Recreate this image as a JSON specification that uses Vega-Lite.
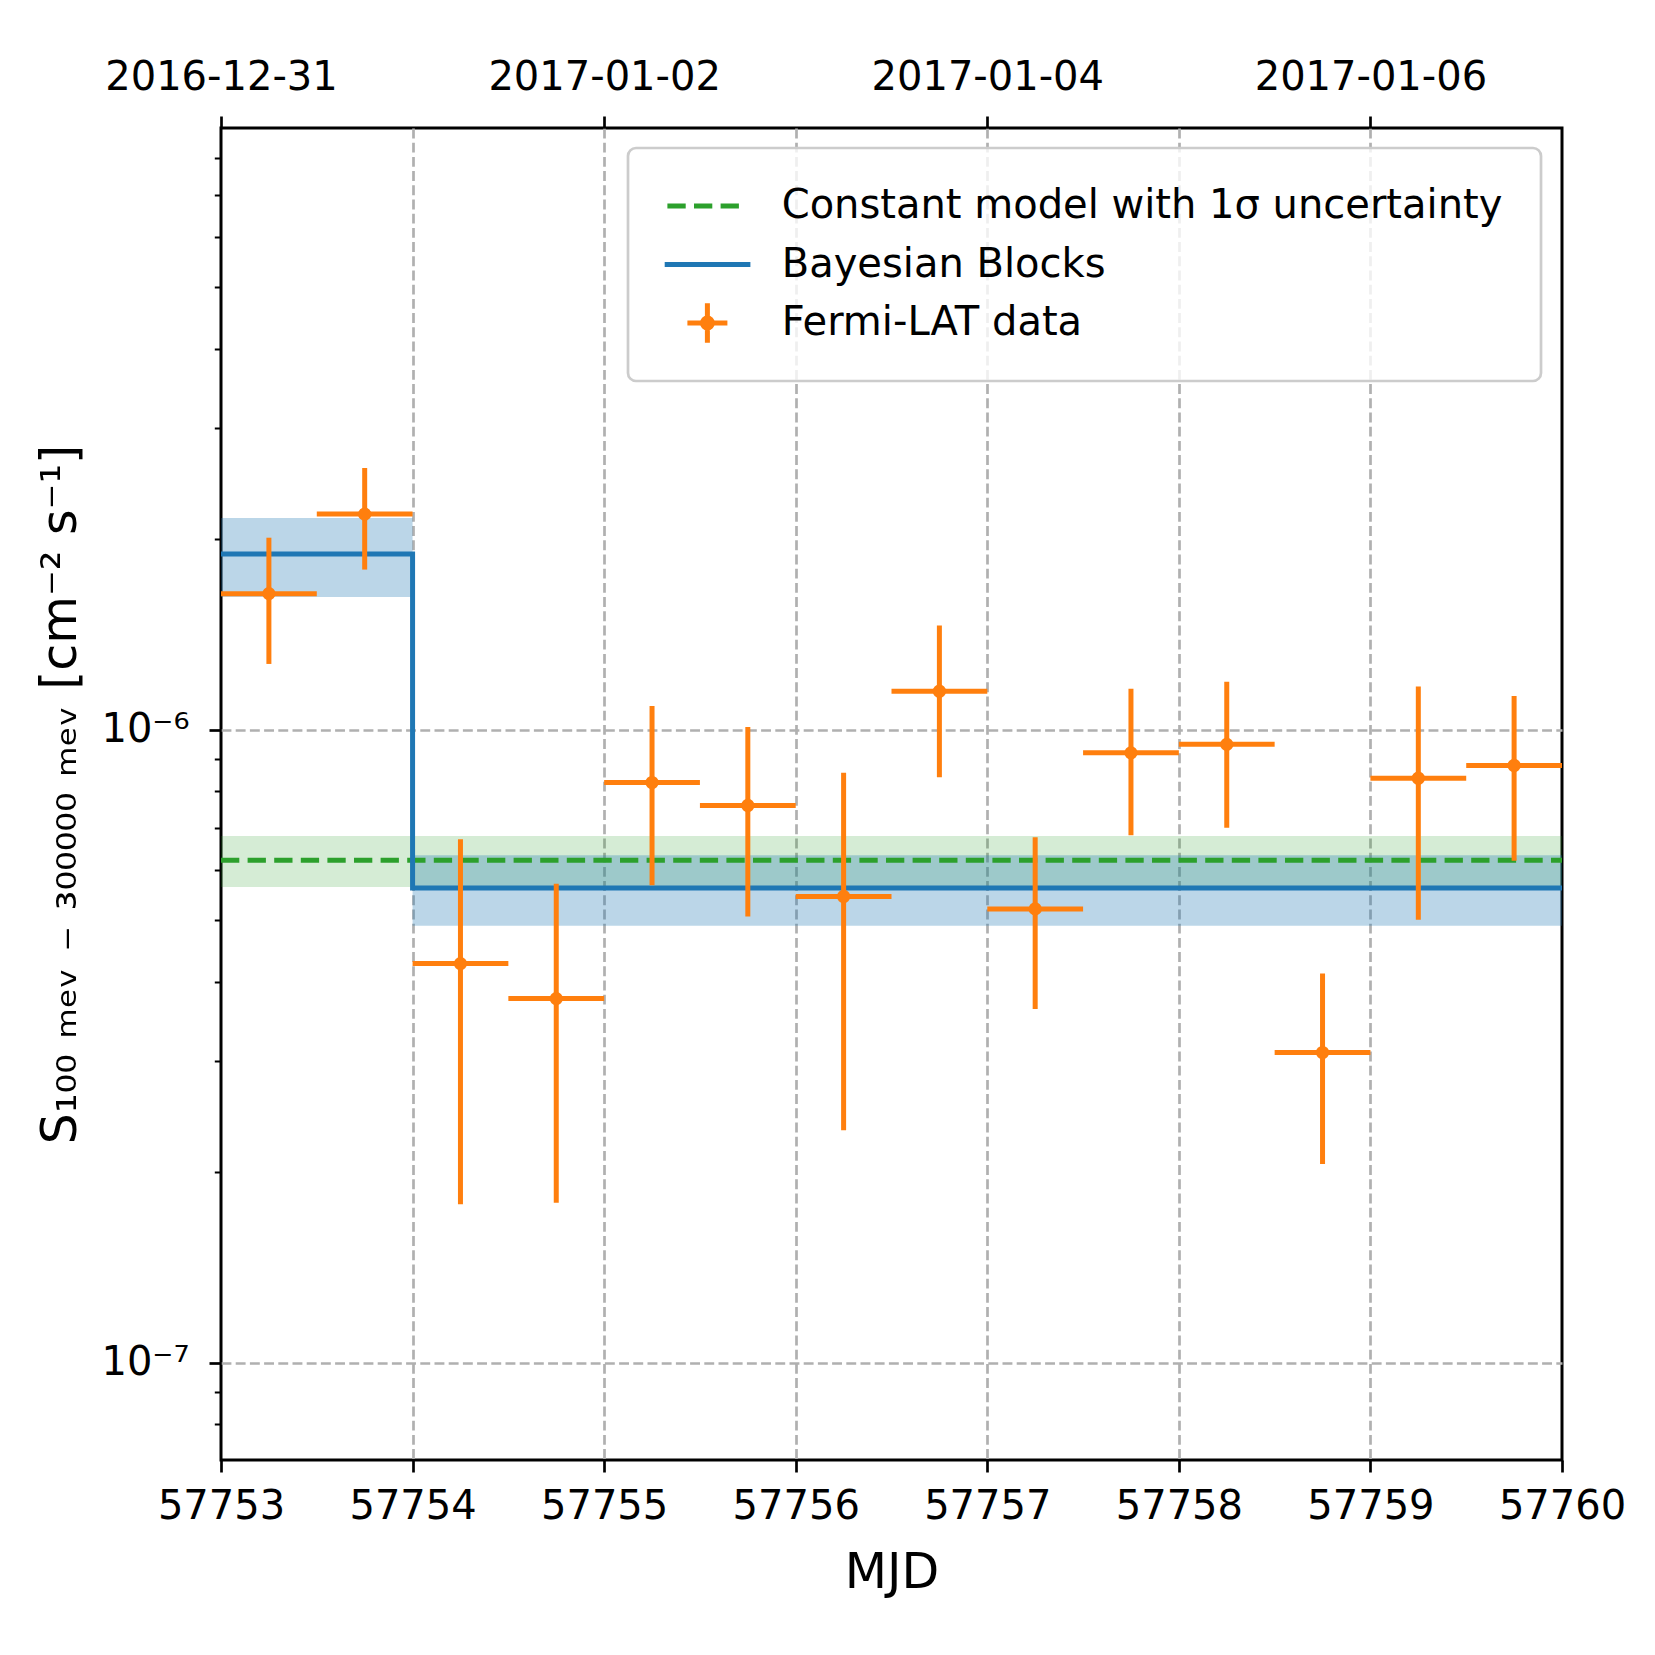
{
  "$schema": "https://vega.github.io/schema/vega-lite/v6.json",
  "width": 1341,
  "height": 1332,
  "autosize": {"type": "none"},
  "padding": {"left": 221, "top": 128, "right": 93, "bottom": 195},
  "background": "white",
  "config": {
    "font": "DejaVu Sans",
    "view": {"stroke": "black", "strokeWidth": 3},
    "axis": {
      "labelFont": "DejaVu Sans", "titleFont": "DejaVu Sans",
      "labelColor": "black", "titleColor": "black", "tickColor": "black",
      "labelFontSize": 40, "titleFontSize": 49, "titleFontWeight": "normal",
      "domain": false, "labelFlush": false, "labelOverlap": false, "labelBound": false, "labelLimit": 0
    },
    "legend": {
      "labelFont": "DejaVu Sans", "labelFontSize": 40, "labelColor": "black",
      "symbolSize": 1600, "symbolStrokeWidth": 0, "labelOffset": 75.7,
      "padding": 38, "rowPadding": 18.5, "labelLimit": 0,
      "fillColor": "rgba(255,255,255,0.8)", "strokeColor": "#cccccc",
      "strokeWidth": 2.7, "cornerRadius": 8
    }
  },
  "datasets": {
    "const": [
      {"x0": 57753, "x1": 57760, "val": 6.22e-7, "lo": 5.64e-7, "hi": 6.79e-7}
    ],
    "blocks": [
      {"start": 57753, "end": 57754, "val": 1.895e-6, "lo": 1.62e-6, "hi": 2.16e-6},
      {"start": 57754, "end": 57760, "val": 5.62e-7, "lo": 4.90e-7, "hi": 6.33e-7}
    ],
    "bbline": [
      {"t": 57753, "flux": 1.895e-6},
      {"t": 57754, "flux": 5.62e-7},
      {"t": 57760, "flux": 5.62e-7}
    ],
    "fermi": [
      {"t": 57753.25, "tlo": 57753.0, "thi": 57753.5, "flux": 1.64e-6, "lo": 1.27e-6, "hi": 2.01e-6},
      {"t": 57753.75, "tlo": 57753.5, "thi": 57754.0, "flux": 2.19e-6, "lo": 1.79e-6, "hi": 2.59e-6},
      {"t": 57754.25, "tlo": 57754.0, "thi": 57754.5, "flux": 4.27e-7, "lo": 1.78e-7, "hi": 6.71e-7},
      {"t": 57754.75, "tlo": 57754.5, "thi": 57755.0, "flux": 3.76e-7, "lo": 1.79e-7, "hi": 5.71e-7},
      {"t": 57755.25, "tlo": 57755.0, "thi": 57755.5, "flux": 8.25e-7, "lo": 5.68e-7, "hi": 1.09e-6},
      {"t": 57755.75, "tlo": 57755.5, "thi": 57756.0, "flux": 7.59e-7, "lo": 5.07e-7, "hi": 1.01e-6},
      {"t": 57756.25, "tlo": 57756.0, "thi": 57756.5, "flux": 5.45e-7, "lo": 2.33e-7, "hi": 8.55e-7},
      {"t": 57756.75, "tlo": 57756.5, "thi": 57757.0, "flux": 1.15e-6, "lo": 8.41e-7, "hi": 1.46e-6},
      {"t": 57757.25, "tlo": 57757.0, "thi": 57757.5, "flux": 5.21e-7, "lo": 3.62e-7, "hi": 6.76e-7},
      {"t": 57757.75, "tlo": 57757.5, "thi": 57758.0, "flux": 9.19e-7, "lo": 6.81e-7, "hi": 1.16e-6},
      {"t": 57758.25, "tlo": 57758.0, "thi": 57758.5, "flux": 9.48e-7, "lo": 7.00e-7, "hi": 1.19e-6},
      {"t": 57758.75, "tlo": 57758.5, "thi": 57759.0, "flux": 3.09e-7, "lo": 2.06e-7, "hi": 4.12e-7},
      {"t": 57759.25, "tlo": 57759.0, "thi": 57759.5, "flux": 8.38e-7, "lo": 5.01e-7, "hi": 1.17e-6},
      {"t": 57759.75, "tlo": 57759.5, "thi": 57760.0, "flux": 8.78e-7, "lo": 6.21e-7, "hi": 1.13e-6}
    ],
    "legend": [
      {"series": "Constant model with 1σ uncertainty"},
      {"series": "Bayesian Blocks"},
      {"series": "Fermi-LAT data"}
    ]
  },
  "resolve": {"axis": {"x": "independent", "y": "independent"}},
  "layer": [
    {
      "data": {"name": "const"},
      "mark": {"type": "rect", "fill": "#2ca02c", "opacity": 0.2},
      "encoding": {
        "x": {"field": "x0", "type": "quantitative",
          "scale": {"domain": [57753, 57760], "nice": false, "zero": false},
          "axis": {"orient": "bottom", "values": [57753, 57754, 57755, 57756, 57757, 57758, 57759, 57760],
            "format": "d", "title": "MJD", "grid": false,
            "tickSize": 12, "tickWidth": 2.7, "labelPadding": 14, "titlePadding": 22}},
        "x2": {"field": "x1"},
        "y": {"field": "lo", "type": "quantitative",
          "scale": {"type": "log", "domain": [7.02e-8, 8.92e-6], "nice": false},
          "axis": {"orient": "left", "values": [1e-7, 1e-6],
            "labelExpr": "datum.value < 5e-7 ? '10⁻⁷' : '10⁻⁶'",
            "title": "S₁₀₀ ₘₑᵥ ₋ ₃₀₀₀₀₀ ₘₑᵥ [cm⁻² s⁻¹]",
            "grid": true, "gridDash": [9.9, 4.3], "gridColor": "#b0b0b0", "gridWidth": 2.7,
            "tickSize": 12, "tickWidth": 2.7, "labelPadding": 20, "titlePadding": 15}},
        "y2": {"field": "hi"}
      }
    },
    {
      "data": {"name": "blocks"},
      "mark": {"type": "rect", "fill": "#1f77b4", "opacity": 0.3},
      "encoding": {
        "x": {"field": "start", "type": "quantitative",
          "scale": {"domain": [57753, 57760], "nice": false, "zero": false},
          "axis": {"orient": "top", "values": [57753, 57755, 57757, 57759],
            "labelExpr": "utcFormat((datum.value - 40587) * 86400000, '%Y-%m-%d')",
            "title": null, "grid": false, "tickSize": 12, "tickWidth": 2.7, "labelPadding": 19}},
        "x2": {"field": "end"},
        "y": {"field": "lo", "type": "quantitative",
          "scale": {"type": "log", "domain": [7.02e-8, 8.92e-6], "nice": false},
          "axis": {"orient": "left",
            "values": [8e-8, 9e-8, 2e-7, 3e-7, 4e-7, 5e-7, 6e-7, 7e-7, 8e-7, 9e-7, 2e-6, 3e-6, 4e-6, 5e-6, 6e-6, 7e-6, 8e-6],
            "labels": false, "title": null, "grid": false, "tickSize": 6.7, "tickWidth": 2}},
        "y2": {"field": "hi"}
      }
    },
    {
      "data": {"name": "const"},
      "mark": {"type": "rule", "color": "#2ca02c", "strokeWidth": 5, "strokeDash": [18.3, 8.3]},
      "encoding": {
        "x": {"field": "x0", "type": "quantitative", "scale": {"domain": [57753, 57760], "nice": false, "zero": false},
          "axis": {"orient": "bottom", "values": [57754, 57755, 57756, 57757, 57758, 57759],
            "grid": true, "gridDash": [9.9, 4.3], "gridColor": "#b0b0b0", "gridWidth": 2.7,
            "ticks": false, "labels": false, "title": null}},
        "x2": {"field": "x1"},
        "y": {"field": "val", "type": "quantitative", "scale": {"type": "log", "domain": [7.02e-8, 8.92e-6], "nice": false}, "axis": null}
      }
    },
    {
      "data": {"name": "bbline"},
      "mark": {"type": "line", "color": "#1f77b4", "strokeWidth": 5, "interpolate": "step-after"},
      "encoding": {
        "x": {"field": "t", "type": "quantitative", "scale": {"domain": [57753, 57760], "nice": false, "zero": false}, "axis": null},
        "y": {"field": "flux", "type": "quantitative", "scale": {"type": "log", "domain": [7.02e-8, 8.92e-6], "nice": false}, "axis": null}
      }
    },
    {
      "data": {"name": "fermi"},
      "mark": {"type": "rule", "color": "#ff7f0e", "strokeWidth": 5},
      "encoding": {
        "x": {"field": "t", "type": "quantitative", "scale": {"domain": [57753, 57760], "nice": false, "zero": false}, "axis": null},
        "y": {"field": "lo", "type": "quantitative", "scale": {"type": "log", "domain": [7.02e-8, 8.92e-6], "nice": false}, "axis": null},
        "y2": {"field": "hi"}
      }
    },
    {
      "data": {"name": "fermi"},
      "mark": {"type": "rule", "color": "#ff7f0e", "strokeWidth": 5},
      "encoding": {
        "x": {"field": "tlo", "type": "quantitative", "scale": {"domain": [57753, 57760], "nice": false, "zero": false}, "axis": null},
        "x2": {"field": "thi"},
        "y": {"field": "flux", "type": "quantitative", "scale": {"type": "log", "domain": [7.02e-8, 8.92e-6], "nice": false}, "axis": null}
      }
    },
    {
      "data": {"name": "fermi"},
      "mark": {"type": "point", "filled": true, "color": "#ff7f0e", "opacity": 1, "size": 177, "shape": "circle"},
      "encoding": {
        "x": {"field": "t", "type": "quantitative", "scale": {"domain": [57753, 57760], "nice": false, "zero": false}, "axis": null},
        "y": {"field": "flux", "type": "quantitative", "scale": {"type": "log", "domain": [7.02e-8, 8.92e-6], "nice": false}, "axis": null}
      }
    },
    {
      "data": {"name": "legend"},
      "mark": {"type": "point", "clip": true, "opacity": 1, "strokeWidth": 0, "size": 1600, "filled": true},
      "encoding": {
        "x": {"datum": 57700, "type": "quantitative", "scale": {"domain": [57753, 57760], "nice": false, "zero": false}, "axis": null},
        "y": {"datum": 1e-6, "type": "quantitative", "scale": {"type": "log", "domain": [7.02e-8, 8.92e-6], "nice": false}, "axis": null},
        "fill": {"field": "series", "type": "nominal",
          "scale": {"domain": ["Constant model with 1σ uncertainty", "Bayesian Blocks", "Fermi-LAT data"], "range": ["#2ca02c", "#1f77b4", "#ff7f0e"]},
          "legend": {"title": null, "orient": "none", "legendX": 407, "legendY": 20}},
        "shape": {"field": "series", "type": "nominal",
          "scale": {"domain": ["Constant model with 1σ uncertainty", "Bayesian Blocks", "Fermi-LAT data"],
            "range": [
              "M-0.93,-0.125L-0.015,-0.125L-0.015,0.125L-0.93,0.125Z M0.4,-0.125L1.315,-0.125L1.315,0.125L0.4,0.125Z M1.73,-0.125L2.645,-0.125L2.645,0.125L1.73,0.125Z",
              "M-1.065,-0.125L3.22,-0.125L3.22,0.125L-1.065,0.125Z",
              "M0.07,-0.125L2.07,-0.125L2.07,0.125L0.07,0.125Z M0.945,-0.985L1.195,-0.985L1.195,0.985L0.945,0.985Z M1.445,0L1.4165,0.1435L1.3352,0.2652L1.2135,0.3465L1.07,0.375L0.9265,0.3465L0.8048,0.2652L0.7235,0.1435L0.695,0L0.7235,-0.1435L0.8048,-0.2652L0.9265,-0.3465L1.07,-0.375L1.2135,-0.3465L1.3352,-0.2652L1.4165,-0.1435Z"
            ]},
          "legend": {"title": null, "orient": "none", "legendX": 407, "legendY": 20}}
      }
    }
  ]
}
